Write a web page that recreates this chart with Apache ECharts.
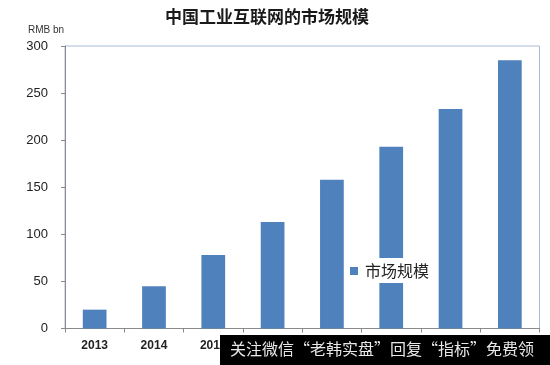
<!DOCTYPE html>
<html>
<head>
<meta charset="utf-8">
<script src="https://cdn.jsdelivr.net/npm/echarts@6/dist/echarts.min.js"></script>
<style>html,body{margin:0;padding:0;background:#fff;}#c{width:550px;height:365px;}</style>
</head>
<body>
<div id="c"></div>
<script>
var titleText = '中国工业互联网的市场规模';
var unitText = 'RMB bn';
var seriesName = '市场规模';
var years = ['2013', '2014', '2015', '2016', '2017', '2018', '2019', '2020'];
var marketSize = [20, 45, 78, 113, 158, 193, 233, 285];
var watermarkText = '关注微信“老韩实盘”回复“指标”免费领';

var chart = echarts.init(document.getElementById('c'), null, {renderer: 'canvas'});
chart.setOption({
  animation: false,
  backgroundColor: '#ffffff',
  title: {
    text: titleText,
    left: 262, textAlign: 'center', top: 3,
    textStyle: {fontFamily: 'Noto Sans CJK SC', fontWeight: 'bold', fontSize: 17, color: '#1a1a1a'}
  },
  grid: {
    left: 65, right: 10.5, top: 46, bottom: 36.5,
    show: true, borderColor: '#a9bcd8', borderWidth: 1, backgroundColor: 'transparent'
  },
  legend: {
    data: [seriesName],
    left: 345, top: 258,
    backgroundColor: '#ffffff',
    padding: [5, 6, 4, 5],
    icon: 'rect', itemWidth: 8, itemHeight: 8,
    textStyle: {fontFamily: 'Noto Sans CJK SC', fontSize: 16, color: '#222', padding: [0, 0, 0, 2]}
  },
  xAxis: {
    type: 'category', data: years,
    axisLine: {lineStyle: {color: '#8a8a8a', width: 1}},
    axisTick: {show: true, length: 4, lineStyle: {color: '#8a8a8a'}},
    axisLabel: {margin: 11, fontFamily: 'Liberation Sans', fontWeight: 'bold', fontSize: 12, color: '#222'}
  },
  yAxis: {
    type: 'value', min: 0, max: 300, interval: 50,
    axisLine: {show: true, lineStyle: {color: '#8a8a8a', width: 1}},
    axisTick: {show: true, length: 4, lineStyle: {color: '#8a8a8a'}},
    splitLine: {show: false},
    axisLabel: {margin: 17, fontFamily: 'Liberation Sans', fontSize: 13, color: '#222'}
  },
  series: [{
    name: seriesName, type: 'bar', data: marketSize,
    barWidth: '40%',
    itemStyle: {color: '#4f81bd'}
  }],
  graphic: [
    {type: 'text', left: 28, top: 25, style: {text: unitText, fontFamily: 'Liberation Sans', fontSize: 10, fill: '#333'}},
    {type: 'rect', z: 100, shape: {x: 220, y: 335, width: 330, height: 30}, style: {fill: '#000000'}},
    {type: 'text', z: 101, left: 230, top: 341, style: {text: watermarkText, fontFamily: 'Noto Sans CJK SC', fontSize: 16, fill: '#e8e8e8'}}
  ]
});
</script>
</body>
</html>
